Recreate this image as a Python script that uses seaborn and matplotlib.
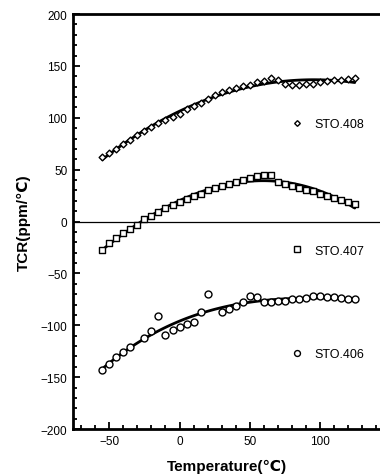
import numpy as np
import pandas as pd
import seaborn as sns
import matplotlib.pyplot as plt
from matplotlib.lines import Line2D
from matplotlib.legend import Legend
from matplotlib.ticker import MultipleLocator

# temperature (℃) and TCR (ppm/℃)
temp_408 = [-55, -50, -45, -40, -35, -30, -25, -20, -15, -10, -5, 0, 5, 10, 15, 20, 25, 30, 35,
            40, 45, 50, 55, 60, 65, 70, 75, 80, 85, 90, 95, 100, 105, 110, 115, 120, 125]
tcr_408 = [62, 66, 70, 75, 79, 83, 87, 91, 95, 98, 101, 104, 108, 111, 114, 118, 122, 125, 127,
           129, 131, 132, 134, 135, 138, 136, 133, 132, 132, 133, 133, 134, 135, 136, 136, 137, 138]

temp_407 = [-55, -50, -45, -40, -35, -30, -25, -20, -15, -10, -5, 0, 5, 10, 15, 20, 25, 30, 35,
            40, 45, 50, 55, 60, 65, 70, 75, 80, 85, 90, 95, 100, 105, 110, 115, 120, 125]
tcr_407 = [-27, -21, -16, -11, -7, -3, 2, 5, 9, 13, 16, 19, 22, 25, 27, 30, 32, 34, 36,
           38, 40, 42, 44, 45, 45, 38, 36, 34, 32, 30, 29, 27, 25, 23, 21, 19, 17]

temp_406 = [-55, -50, -45, -40, -35, -25, -20, -15, -10, -5, 0, 5, 10, 15, 20, 30, 35,
            40, 45, 50, 55, 60, 65, 70, 75, 80, 85, 90, 95, 100, 105, 110, 115, 120, 125]
tcr_406 = [-143, -137, -131, -126, -121, -112, -106, -91, -109, -105, -102, -99, -97, -87, -70, -87, -84,
           -81, -78, -72, -73, -78, -78, -77, -77, -75, -75, -74, -72, -72, -73, -73, -74, -75, -75]

labels = ["STO.408", "STO.407", "STO.406"]

sns.set_style("ticks")
plt.rcParams['font.family'] = ['Liberation Sans', 'DejaVu Sans']
for k in ['text.color', 'axes.labelcolor', 'xtick.color', 'ytick.color', 'axes.edgecolor']:
    plt.rcParams[k] = 'black'

fig = plt.figure(figsize=(3.8, 4.77), dpi=100)
ax = fig.add_axes([0.192, 0.0985, 0.808, 0.87])

ax.axhline(0, color="black", lw=0.9, zorder=1)

series = [(temp_408, tcr_408, "D", 3.4), (temp_407, tcr_407, "s", 4.4), (temp_406, tcr_406, "o", 5.0)]
for (t, v, m, ms), lab in zip(series, labels):
    df = pd.DataFrame({"T": t, "TCR": v})
    sns.regplot(data=df, x="T", y="TCR", order=3, ci=None, scatter=False, truncate=True,
                line_kws=dict(color="black", lw=2.0, zorder=2), ax=ax)
    sns.scatterplot(data=df, x="T", y="TCR", marker=m, s=ms ** 2, facecolor="white",
                    edgecolor="black", linewidth=1.0, zorder=3, ax=ax)

# one-entry legends placed beside each curve
leg_pos = [(0.69, 0.735), (0.69, 0.43), (0.69, 0.18)]
for (t, v, m, ms), lab, pos in zip(series, labels, leg_pos):
    h = Line2D([], [], ls="none", marker=m, ms=ms * 0.85, mfc="white", mec="black", mew=1.0)
    lg = Legend(ax, [h], [lab], loc="center left", bbox_to_anchor=pos, frameon=False,
                fontsize=9, handlelength=1.0, handletextpad=0.9, borderpad=0)
    ax.add_artist(lg)

ax.set_xlim(-76, 143)
ax.set_ylim(-200, 200)
ax.xaxis.set_major_locator(MultipleLocator(50))
ax.xaxis.set_minor_locator(MultipleLocator(10))
ax.yaxis.set_major_locator(MultipleLocator(50))
ax.yaxis.set_minor_locator(MultipleLocator(10))
ax.tick_params(which="both", direction="in", width=1.3, labelsize=8.5, pad=4)
ax.tick_params(which="major", length=5)
ax.tick_params(which="minor", length=3)
ax.tick_params(axis="x", top=False)
ax.tick_params(axis="y", right=False)
for s in ["left", "bottom", "top"]:
    ax.spines[s].set_linewidth(2)
ax.spines["right"].set_visible(False)

ax.set_xlabel("Temperature(℃)", fontsize=11, fontweight="bold", labelpad=9)
ax.set_ylabel("TCR(ppm/℃)", fontsize=11, fontweight="bold", labelpad=7)

fig.savefig("out.png", dpi=100)
